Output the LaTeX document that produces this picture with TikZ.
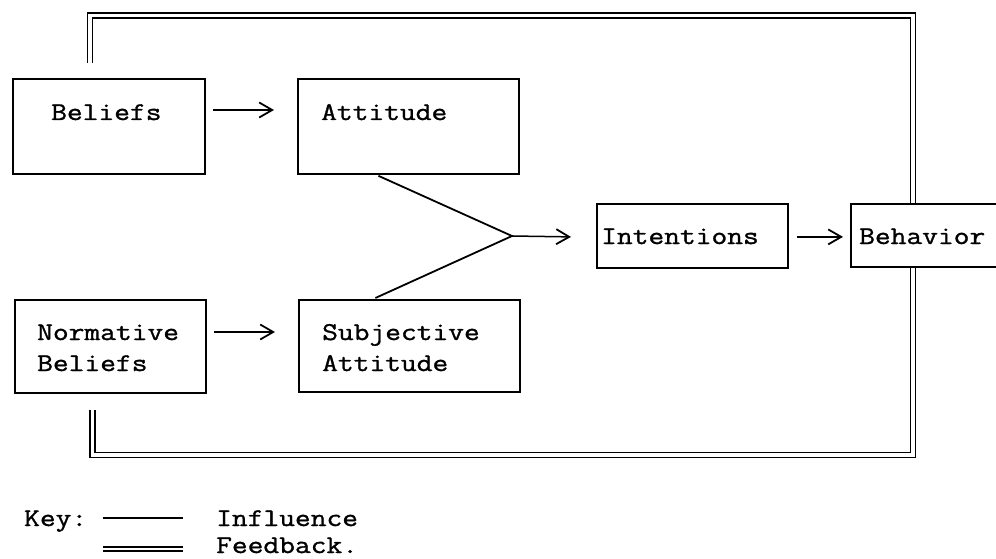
\documentclass[tikz,border=0pt]{standalone}
\usepackage{fontspec}
\newfontfamily\twfont[FakeStretch=1.2,FakeBold=1.2]{Latin Modern Mono}
\usetikzlibrary{arrows.meta,calc}
\begin{document}
\begin{tikzpicture}[x=1pt,y=-1pt,
  boxnode/.style={draw,line width=1.8pt,rectangle,inner sep=0pt,anchor=north west},
  txt/.style={font=\twfont\fontsize{25.5}{31}\selectfont,inner sep=0pt,anchor=base west},
  influence/.style={line width=1.5pt,-{Straight Barb[length=13pt,width=15pt,line width=1.8pt]}},
  plainline/.style={line width=1.8pt},
  feedback/.style={double,double distance=3.2pt,line width=1.7pt}]
\useasboundingbox (0,0) rectangle (996,559);
\begin{scope}
\clip (0,0) rectangle (996,559);
% boxes
\node[boxnode,minimum width=192pt,minimum height=95pt] (beliefs) at (12,78) {};
\node[boxnode,minimum width=221pt,minimum height=95pt] (attitude) at (297,78) {};
\node[boxnode,minimum width=191pt,minimum height=93pt] (normative) at (14,299) {};
\node[boxnode,minimum width=221pt,minimum height=92pt] (subjective) at (298,299) {};
\node[boxnode,minimum width=191pt,minimum height=64pt] (intentions) at (596,203) {};
\node[boxnode,minimum width=170pt,minimum height=63pt] (behavior) at (850,203) {};
% labels
\node[txt] (lbeliefs) at (51,120) {Beliefs};
\node[txt] (lattitude) at (321,120) {Attitude};
\node[txt] (lnorm1) at (37,340) {Normative};
\node[txt] (lnorm2) at (37,371) {Beliefs};
\node[txt] (lsubj1) at (322,340) {Subjective};
\node[txt] (lsubj2) at (322,371) {Attitude};
\node[txt] (lintent) at (601,244) {Intentions};
\node[txt] (lbehav) at (859,244) {Behavior};
% influence arrows
\draw[influence] ($(beliefs.north east)+(7,32)$) -- ($(attitude.north west)+(-23,32)$);
\draw[influence] ($(normative.north east)+(7,33)$) -- ($(subjective.north west)+(-23,33)$);
\coordinate (junction) at (512,236);
\draw[plainline] ($(attitude.south)+(-30,1)$) -- (junction) -- ($(subjective.north)+(-34,-1)$);
\draw[influence] (junction) -- ($(intentions.west)+(-25,1)$);
\draw[influence] ($(intentions.east)+(8,1)$) -- ($(behavior.west)+(-7,1.5)$);
% feedback
\coordinate (fbstart) at (90,63);
\coordinate (fbend) at (92.5,410);
\draw[feedback] (fbstart) -- (90,15.5) -- (913,15.5) -- (913,0 |- behavior.north);
\draw[feedback] (913,0 |- behavior.south) -- (913,455) -- (92.5,455) -- (fbend);
% key
\node[txt] (key) at (24,526) {Key:};
\coordinate (k1a) at (103,518);
\coordinate (k1b) at (183,518);
\draw[plainline] (k1a) -- (k1b);
\node[txt] (kinfl) at (216,526) {Influence};
\coordinate (k2a) at (103,549);
\coordinate (k2b) at (183,549);
\draw[feedback,double distance=2.4pt,line width=1.5pt] (k2a) -- (k2b);
\node[txt] (kfeed) at (216,553) {Feedback.};
\end{scope}
\end{tikzpicture}
\end{document}
